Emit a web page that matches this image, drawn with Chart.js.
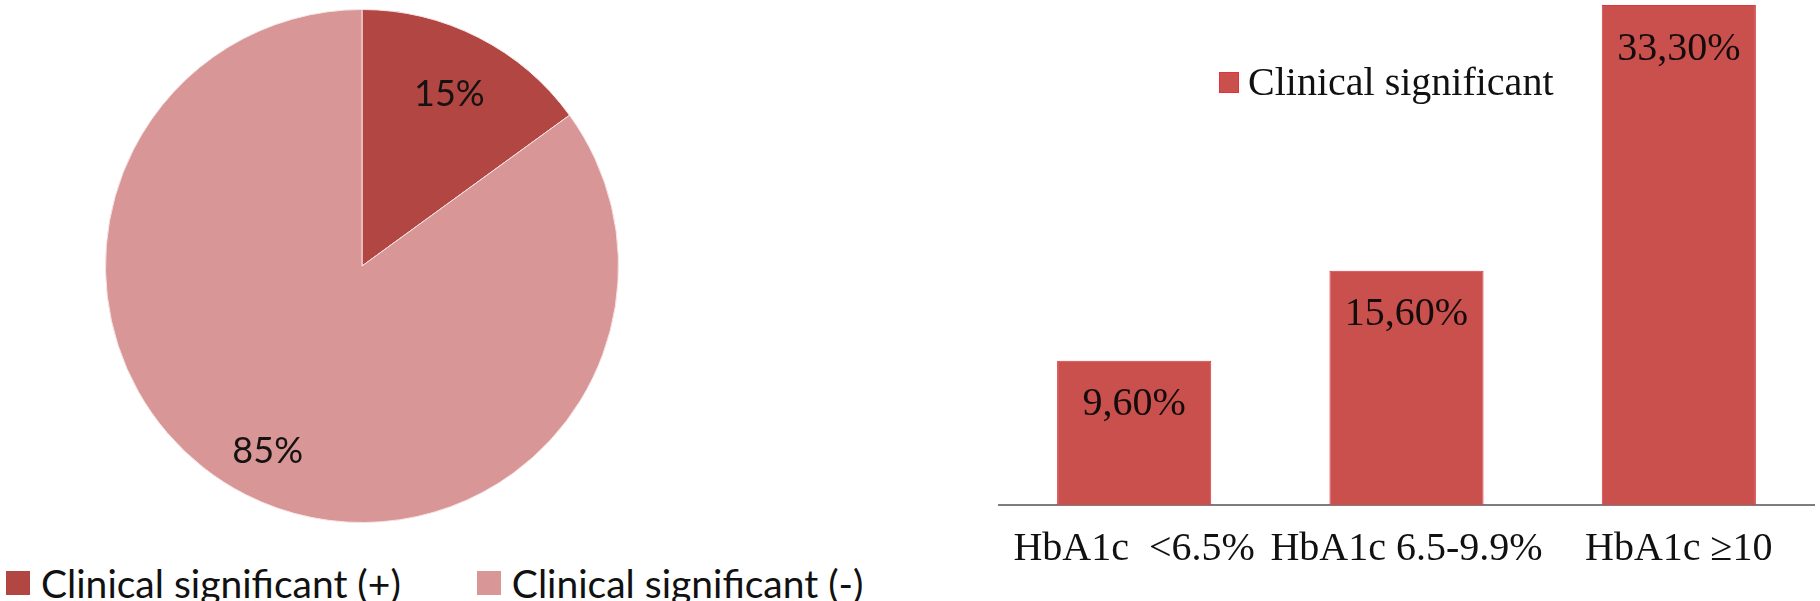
<!DOCTYPE html>
<html>
<head>
<meta charset="utf-8">
<title>Clinical significant</title>
<script src="https://cdn.jsdelivr.net/npm/chart.js@4.4.1/dist/chart.umd.min.js"></script>
<style>
  html, body { margin: 0; padding: 0; background: #fff; }
  #page { position: relative; width: 1820px; height: 601px; overflow: hidden; }
  #pie-wrap { position: absolute; left: 0; top: 0; width: 724px; height: 532px; }
  #bar-wrap { position: absolute; left: 998px; top: 0; width: 817px; height: 601px; }
  .legend { position: absolute; display: flex; align-items: center; white-space: nowrap; color: #111; }
  .legend .item { display: flex; align-items: center; }
  .legend .box { display: inline-block; flex: none; }
  #pie-legend { left: 6px; top: 564px; font: 39px/38px Lato, sans-serif; }
  #pie-legend .box { width: 24px; height: 24px; margin-right: 11px; }
  #pie-legend .item + .item { margin-left: 76px; }
  #bar-legend { left: 1219px; top: 62px; font: 40px/40px "Liberation Serif", "Times New Roman", serif; }
  #bar-legend .box { width: 20px; height: 21px; margin-right: 9px; box-sizing: border-box; border: 1px solid #e8303c; }
</style>
</head>
<body>
<div id="page">
  <div id="pie-wrap"><canvas id="pieChart"></canvas></div>
  <div id="bar-wrap"><canvas id="barChart"></canvas></div>
  <div id="pie-legend" class="legend"></div>
  <div id="bar-legend" class="legend"></div>
</div>
<script>
// pie: share of clinically significant findings
const pieLabels = ["Clinical significant (+)", "Clinical significant (-)"];
const pieValues = [15, 85];
const pieColors = ["#b24642", "#d99696"];

// bars: clinically significant by HbA1c group
const barLabels = ["HbA1c  <6.5%", "HbA1c 6.5-9.9%", "HbA1c \u226510"];
const barValues = [9.6, 15.6, 33.3];
const barSeries = "Clinical significant";
const barColor = "#c9504d";

function $(id) {
  const el = document.getElementById(id);
  if (!el) throw new Error(`Missing element #${id}`);
  return el;
}

function buildLegend(id, labels, colors) {
  const box = $(id);
  labels.forEach((text, i) => {
    const item = document.createElement("div");
    item.className = "item";
    const sw = document.createElement("span");
    sw.className = "box";
    sw.style.background = colors[i];
    const label = document.createElement("span");
    label.textContent = text;
    item.appendChild(sw);
    item.appendChild(label);
    box.appendChild(item);
  });
}

// writes the value labels on slices / inside bars
const valueLabels = {
  id: "valueLabels",
  afterDatasetsDraw(chart, args, opts) {
    const { ctx } = chart;
    const meta = chart.getDatasetMeta(0);
    const values = chart.data.datasets[0].data;
    ctx.save();
    ctx.fillStyle = opts.color;
    ctx.font = opts.font;
    ctx.textAlign = "center";
    meta.data.forEach((el, i) => {
      const text = opts.format(values[i]);
      if (chart.config.type === "pie") {
        const { x, y, startAngle, endAngle, outerRadius } = el.getProps(["x", "y", "startAngle", "endAngle", "outerRadius"], true);
        const mid = (startAngle + endAngle) / 2;
        const r = outerRadius * opts.radius[i];
        ctx.textBaseline = "middle";
        ctx.fillText(text, x + Math.cos(mid) * r, y + Math.sin(mid) * r);
      } else {
        ctx.textBaseline = "top";
        ctx.fillText(text, el.x, el.y + opts.offset);
      }
    });
    ctx.restore();
  },
};

function main() {
  Chart.defaults.animation = false;

  new Chart($("pieChart"), {
    type: "pie",
    data: {
      labels: pieLabels,
      datasets: [{ data: pieValues, backgroundColor: pieColors, borderColor: "#f6e4e4", borderWidth: 1 }],
    },
    options: {
      responsive: true,
      maintainAspectRatio: false,
      layout: { padding: { top: 9, bottom: 9 } },
      plugins: {
        legend: { display: false },
        tooltip: { enabled: false },
        valueLabels: {
          color: "#161212",
          font: "36px Lato, sans-serif",
          radius: [0.75, 0.81],
          format: (v) => `${v}%`,
        },
      },
    },
    plugins: [valueLabels],
  });

  new Chart($("barChart"), {
    type: "bar",
    data: {
      labels: barLabels,
      datasets: [{
        label: barSeries,
        data: barValues,
        backgroundColor: barColor,
        borderColor: "#dc3741",
        borderWidth: { left: 1, right: 1, top: 1, bottom: 0 },
        categoryPercentage: 1,
        barPercentage: 0.566,
      }],
    },
    options: {
      responsive: true,
      maintainAspectRatio: false,
      layout: { padding: { top: 5, bottom: 28 } },
      scales: {
        y: { display: false, min: 0, max: 33.3 },
        x: {
          grid: { display: false, drawTicks: true, tickLength: 20 },
          border: { display: true, color: "#7d7d7d", width: 2 },
          ticks: {
            color: "#111",
            padding: 0,
            autoSkip: false,
            maxRotation: 0,
            minRotation: 0,
            font: { family: "'Liberation Serif', 'Times New Roman', serif", size: 40 },
          },
        },
      },
      plugins: {
        legend: { display: false },
        tooltip: { enabled: false },
        valueLabels: {
          color: "#140c0c",
          font: "40px 'Liberation Serif', 'Times New Roman', serif",
          offset: 24,
          format: (v) => `${v.toFixed(2).replace(".", ",")}%`,
        },
      },
    },
    plugins: [valueLabels],
  });

  buildLegend("pie-legend", pieLabels, pieColors);
  buildLegend("bar-legend", [barSeries], [barColor]);
}

document.addEventListener("DOMContentLoaded", main);
</script>
</body>
</html>
